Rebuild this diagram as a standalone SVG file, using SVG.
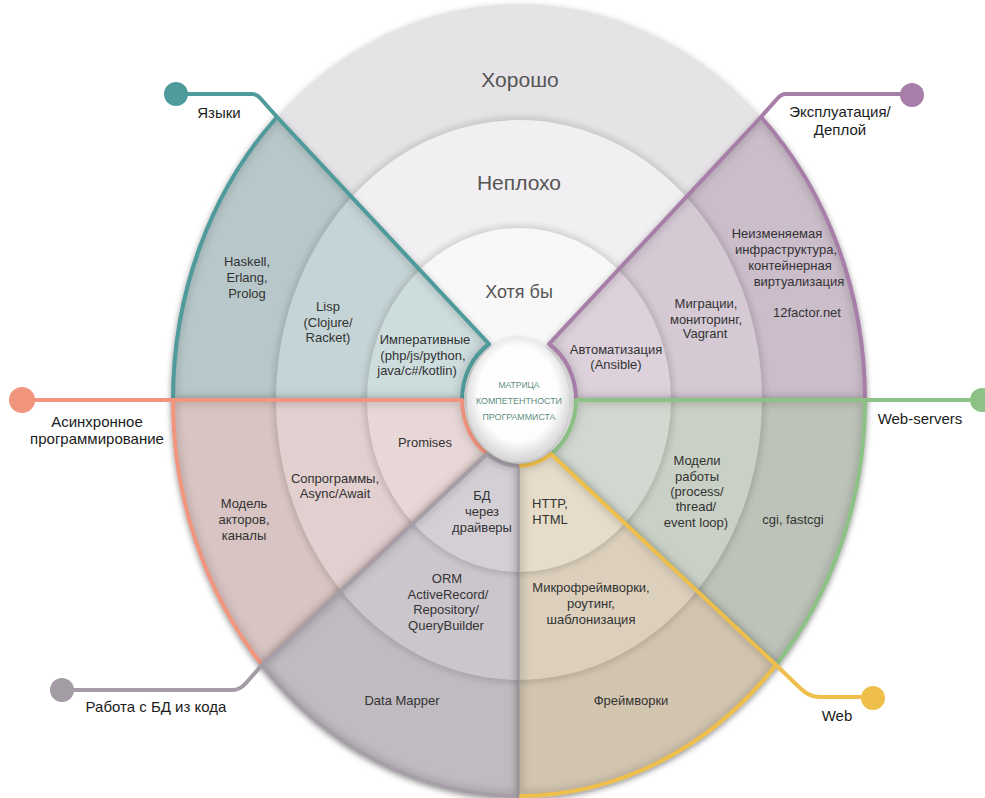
<svg xmlns="http://www.w3.org/2000/svg" width="985" height="798" viewBox="0 0 985 798">
<defs>
<style>
text{font-family:"Liberation Sans",Arial,sans-serif}
.lbl{font-size:15px;fill:#1c1c1c;text-anchor:middle}
.lvl{font-size:21px;fill:#555;text-anchor:middle}
.t{font-size:13px;fill:#333;text-anchor:middle}
.ctr{font-size:9.5px;fill:#5e8e80;text-anchor:middle}
.edge{fill:none;stroke-width:4;stroke-linejoin:round}
.ish{fill:none;stroke:#000;stroke-opacity:.16;stroke-width:8;filter:url(#blur4)}
.rsh{fill:#000;opacity:.13;filter:url(#blur3)}
.conn{fill:none;stroke-width:4;stroke-linecap:round;stroke-linejoin:round}
</style>
<filter id="blur3" x="-20%" y="-20%" width="140%" height="140%"><feGaussianBlur stdDeviation="3"/></filter>
<filter id="blur4" x="-20%" y="-20%" width="140%" height="140%"><feGaussianBlur stdDeviation="4"/></filter>
<filter id="drop" x="-15%" y="-15%" width="130%" height="130%"><feDropShadow dx="0" dy="2" stdDeviation="3" flood-color="#000" flood-opacity=".3"/></filter>
<radialGradient id="cg" cx="50%" cy="45%" r="55%"><stop offset="0" stop-color="#fff"/><stop offset="0.7" stop-color="#fdfdfd"/><stop offset="1" stop-color="#d4d4d4"/></radialGradient>
<ellipse id="e3" cx="519" cy="400" rx="346" ry="396"/>
<ellipse id="e2s" cx="519" cy="400" rx="246" ry="283"/>
<ellipse id="e2" cx="519" cy="400" rx="243" ry="280"/>
<ellipse id="e1s" cx="519" cy="400" rx="155" ry="175"/>
<ellipse id="e1" cx="519" cy="400" rx="152" ry="172"/>
<path id="pTeal" d="M173,400 A346,396 0 0 1 277,117 L489,344 A57,66 0 0 0 462,400 Z"/>
<path id="pPurple" d="M761,117 A346,396 0 0 1 865,400 L576,400 A57,66 0 0 0 549,344 Z"/>
<path id="pGreen" d="M865,400 A346,396 0 0 1 776,665 L551,454 A57,66 0 0 0 576,400 Z"/>
<path id="pYellow" d="M776,665 A346,396 0 0 1 519,796 L519,466 A57,66 0 0 0 551,454 Z"/>
<path id="pGray" d="M519,796 A346,396 0 0 1 262,665 L487,454 A57,66 0 0 0 519,466 Z"/>
<path id="pSalmon" d="M262,665 A346,396 0 0 1 173,400 L462,400 A57,66 0 0 0 487,454 Z"/>
<clipPath id="cTeal"><path d="M173,400 A346,396 0 0 1 277,117 L489,344 A57,66 0 0 0 462,400 Z"/></clipPath>
<clipPath id="cPurple"><path d="M761,117 A346,396 0 0 1 865,400 L576,400 A57,66 0 0 0 549,344 Z"/></clipPath>
<clipPath id="cGreen"><path d="M865,400 A346,396 0 0 1 776,665 L551,454 A57,66 0 0 0 576,400 Z"/></clipPath>
<clipPath id="cYellow"><path d="M776,665 A346,396 0 0 1 519,796 L519,466 A57,66 0 0 0 551,454 Z"/></clipPath>
<clipPath id="cGray"><path d="M519,796 A346,396 0 0 1 262,665 L487,454 A57,66 0 0 0 519,466 Z"/></clipPath>
<clipPath id="cSalmon"><path d="M262,665 A346,396 0 0 1 173,400 L462,400 A57,66 0 0 0 487,454 Z"/></clipPath>
</defs>

<g id="levels">
<use href="#e3" fill="#e5e3e5" filter="url(#drop)"/>
<use href="#e2s" class="rsh"/>
<use href="#e2" fill="#f1eff1"/>
<use href="#e1s" class="rsh"/>
<use href="#e1" fill="#f9f8f9"/>
<text class="lvl" x="520" y="87">Хорошо</text>
<text class="lvl" x="519" y="190">Неплохо</text>
<text class="lvl" x="519" y="298" style="font-size:18px">Хотя бы</text>
</g>

<g id="node-yazyki">
<g filter="url(#drop)">
<g clip-path="url(#cTeal)">
<use href="#e3" fill="#b8c8ca"/><use href="#e2s" class="rsh"/><use href="#e2" fill="#c5d4d6"/><use href="#e1s" class="rsh"/><use href="#e1" fill="#cddcdd"/>
<use href="#pTeal" class="ish"/>
</g>
<use href="#pTeal" class="edge" stroke="#4f9a9a"/>
</g>
<text class="t" x="247" y="266">Haskell,</text>
<text class="t" x="247" y="282">Erlang,</text>
<text class="t" x="247" y="298">Prolog</text>
<text class="t" x="328" y="311">Lisp</text>
<text class="t" x="328" y="327">(Clojure/</text>
<text class="t" x="328" y="342">Racket)</text>
<text class="t" x="425" y="344">Императивные</text>
<text class="t" x="423" y="360">(php/js/python,</text>
<text class="t" x="417" y="375">java/c#/kotlin)</text>
</g>

<g id="node-deploy">
<g filter="url(#drop)">
<g clip-path="url(#cPurple)">
<use href="#e3" fill="#cbbdca"/><use href="#e2s" class="rsh"/><use href="#e2" fill="#d5c9d4"/><use href="#e1s" class="rsh"/><use href="#e1" fill="#ddd2dc"/>
<use href="#pPurple" class="ish"/>
</g>
<use href="#pPurple" class="edge" stroke="#a77ea8"/>
</g>
<text class="t" x="777" y="238">Неизменяемая</text>
<text class="t" x="786" y="254">инфраструктура,</text>
<text class="t" x="790" y="270">контейнерная</text>
<text class="t" x="799" y="286">виртуализация</text>
<text class="t" x="807" y="317">12factor.net</text>
<text class="t" x="706" y="308">Миграции,</text>
<text class="t" x="706" y="324">мониторинг,</text>
<text class="t" x="705" y="338">Vagrant</text>
<text class="t" x="616" y="354">Автоматизация</text>
<text class="t" x="616" y="369">(Ansible)</text>
</g>

<g id="node-webservers">
<g filter="url(#drop)">
<g clip-path="url(#cGreen)">
<use href="#e3" fill="#bdc3b9"/><use href="#e2s" class="rsh"/><use href="#e2" fill="#c9d0c5"/><use href="#e1s" class="rsh"/><use href="#e1" fill="#d1d8cf"/>
<use href="#pGreen" class="ish"/>
</g>
<use href="#pGreen" class="edge" stroke="#8dc286"/>
</g>
<text class="t" x="697" y="465">Модели</text>
<text class="t" x="697" y="481">работы</text>
<text class="t" x="697" y="496">(process/</text>
<text class="t" x="696" y="511">thread/</text>
<text class="t" x="696" y="527">event loop)</text>
<text class="t" x="793" y="524">cgi, fastcgi</text>
</g>

<g id="node-async">
<g filter="url(#drop)">
<g clip-path="url(#cSalmon)">
<use href="#e3" fill="#d8c4c3"/><use href="#e2s" class="rsh"/><use href="#e2" fill="#e2cfcf"/><use href="#e1s" class="rsh"/><use href="#e1" fill="#e8d7d7"/>
<use href="#pSalmon" class="ish"/>
</g>
<use href="#pSalmon" class="edge" stroke="#f2957f"/>
</g>
<text class="t" x="425" y="447">Promises</text>
<text class="t" x="335" y="483">Сопрограммы,</text>
<text class="t" x="335" y="498">Async/Await</text>
<text class="t" x="244" y="508">Модель</text>
<text class="t" x="244" y="524">акторов,</text>
<text class="t" x="244" y="540">каналы</text>
</g>

<g id="node-db">
<g filter="url(#drop)">
<g clip-path="url(#cGray)">
<use href="#e3" fill="#c0bbc0"/><use href="#e2s" class="rsh"/><use href="#e2" fill="#cbc6cc"/><use href="#e1s" class="rsh"/><use href="#e1" fill="#d4cfd5"/>
<use href="#pGray" class="ish"/>
</g>
<path class="edge" stroke="#a69fa8" d="M519,466 A57,66 0 0 1 487,454 L262,665 A346,396 0 0 0 519,796"/>
</g>
<text class="t" x="482" y="500">БД</text>
<text class="t" x="482" y="516">через</text>
<text class="t" x="482" y="532">драйверы</text>
<text class="t" x="447" y="583">ORM</text>
<text class="t" x="448" y="599">ActiveRecord/</text>
<text class="t" x="446" y="614">Repository/</text>
<text class="t" x="446" y="630">QueryBuilder</text>
<text class="t" x="402" y="705">Data Mapper</text>
</g>

<g id="node-web">
<g filter="url(#drop)">
<g clip-path="url(#cYellow)">
<use href="#e3" fill="#d2c5b0"/><use href="#e2s" class="rsh"/><use href="#e2" fill="#dcd0bc"/><use href="#e1s" class="rsh"/><use href="#e1" fill="#e5dcc9"/>
<use href="#pYellow" class="ish"/>
</g>
<path class="edge" stroke="#efbf4c" d="M519,796 A346,396 0 0 0 776,665 L551,454 A57,66 0 0 1 519,466"/>
</g>
<line x1="519" y1="466" x2="519" y2="796" stroke="#9d959d" stroke-width="2" stroke-opacity=".7"/>
<text class="t" x="550" y="508">HTTP,</text>
<text class="t" x="550" y="524">HTML</text>
<text class="t" x="591" y="592">Микрофреймворки,</text>
<text class="t" x="591" y="608">роутинг,</text>
<text class="t" x="591" y="624">шаблонизация</text>
<text class="t" x="631" y="705">Фреймворки</text>
</g>

<g id="connectors">
<path class="conn" stroke="#4f9a9a" d="M176,94 H252 Q257,94 261,99 L277,117"/>
<circle cx="176" cy="94" r="12" fill="#4f9a9a"/>
<path class="conn" stroke="#a77ea8" d="M912,94 H786 Q781,94 777,99 L761,117"/>
<circle cx="912" cy="95" r="12" fill="#a77ea8"/>
<path class="conn" stroke="#f2957f" d="M22,400 H175"/>
<circle cx="22" cy="400" r="13" fill="#f2957f"/>
<path class="conn" stroke="#8dc286" d="M863,400 H982"/>
<circle cx="982" cy="400" r="12" fill="#8dc286"/>
<path class="conn" stroke="#a39ca5" d="M62,690 H232 Q240,690 246,683 L262,665"/>
<circle cx="62" cy="690" r="12" fill="#a39ca5"/>
<path class="conn" stroke="#efbf4c" d="M776,665 L800,688 Q809,697 820,697 H873"/>
<circle cx="873" cy="698" r="12" fill="#efbf4c"/>
</g>

<g id="labels">
<text class="lbl" x="219" y="118">Языки</text>
<text class="lbl" x="840" y="117">Эксплуатация/</text>
<text class="lbl" x="840" y="135">Деплой</text>
<text class="lbl" x="97" y="427">Асинхронное</text>
<text class="lbl" x="97" y="444">программирование</text>
<text class="lbl" x="920" y="424">Web-servers</text>
<text class="lbl" x="156" y="712">Работа с БД из кода</text>
<text class="lbl" x="837" y="721">Web</text>
</g>

<g id="node-center">
<ellipse cx="518" cy="400" rx="51" ry="62" fill="url(#cg)" filter="url(#drop)"/>
<text class="ctr" x="519" y="388" textLength="41" lengthAdjust="spacingAndGlyphs">МАТРИЦА</text>
<text class="ctr" x="519" y="404" textLength="86" lengthAdjust="spacingAndGlyphs">КОМПЕТЕНТНОСТИ</text>
<text class="ctr" x="519" y="420" textLength="73" lengthAdjust="spacingAndGlyphs">ПРОГРАММИСТА</text>
</g>
</svg>
